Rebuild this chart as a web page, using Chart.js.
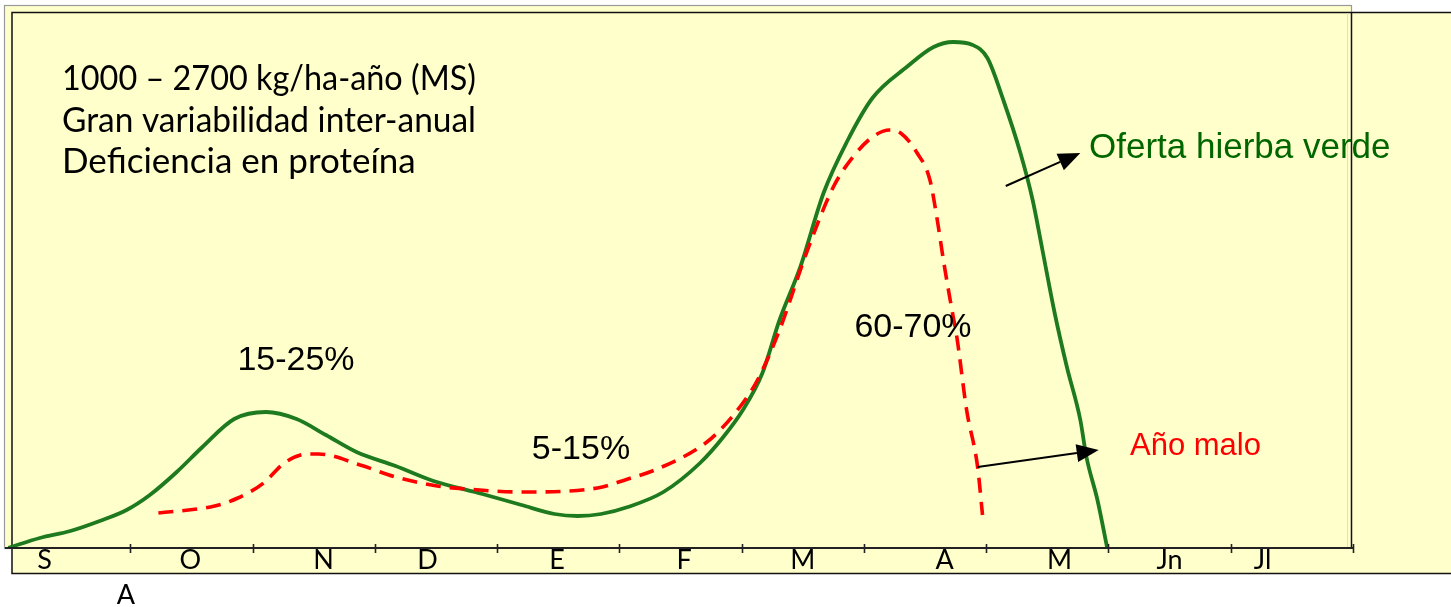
<!DOCTYPE html>
<html>
<head>
<meta charset="utf-8">
<script src="https://cdn.jsdelivr.net/npm/chart.js@4.4.1/dist/chart.umd.min.js"></script>
<style>
  html, body { margin:0; padding:0; background:#fff; }
  #wrap { width:1451px; height:607px; position:relative; }
</style>
</head>
<body>
<div id="wrap"><canvas id="chart" width="1451" height="607"></canvas></div>
<script>
// months from September; x is in months since start of S
const months = ['S','O','N','D','E','F','M','A','M','Jn','Jl'];

// "Oferta hierba verde" (normal year)
const greenX = [0,0.26,0.51,0.75,0.97,1.16,1.38,1.59,1.85,2.11,2.36,2.60,2.85,3.17,3.48,3.88,4.20,4.47,4.66,4.85,5.07,5.36,5.66,5.85,6.01,6.17,6.31,6.48,6.67,6.86,7.07,7.35,7.57,7.73,7.89,8.01,8.14,8.28,8.38,8.46,8.56,8.66,8.77,8.82,8.91,8.99];
const greenY = [0,2,3.4,5.4,7.6,10.6,15.2,20.2,25.8,27.2,25.8,22.6,19.2,16.4,13.4,10.8,8.6,6.8,6.4,6.8,8.2,11.2,17,22.2,27.6,35,45.6,56.2,71,81.2,90,96.2,100.2,101.2,100.6,98,89.6,79,69.6,59.6,47,36.2,25.6,18.2,9.6,0];

// "Año malo"
const redX = [1.23,1.69,1.88,2.09,2.26,2.45,2.54,2.88,3.17,3.51,3.75,4.20,4.82,5.07,5.29,5.66,5.80,6.01,6.13,6.31,6.53,6.75,6.91,7.07,7.21,7.30,7.43,7.54,7.60,7.65,7.72,7.76,7.84,7.93,7.97];
const redY = [7,8.4,10,13,17,18.8,18.8,16.6,14.2,12.4,11.8,11.2,12,13.8,15.6,20.2,23,29,33.6,43.6,59,72.2,78.2,82.2,83.6,83,79.2,73.6,65.6,57.6,47.6,42.2,27.6,16.2,6.6];

const infoLines = ['1000 – 2700 kg/ha-año (MS)', 'Gran variabilidad inter-anual', 'Deficiencia en proteína'];

const toPts = (xs, ys) => xs.map((x,i) => ({x, y: ys[i]}));

// where each month letter sits along the axis (in month units)
const labelPos = [0.30,1.49,2.58,3.43,4.49,5.53,6.50,7.66,8.60,9.50,10.26];

const frame = {
  id: 'frame',
  beforeDraw(chart){
    const c = chart.ctx;
    c.save();
    c.fillStyle = '#fff';
    c.fillRect(0,0,chart.width,chart.height);
    c.fillStyle = '#FFFFCC';
    // chart box (behind)
    c.fillRect(5,6,1347,542);
    c.strokeStyle = '#999';
    c.lineWidth = 1.2;
    c.strokeRect(4.5,5.5,1347,543);
    // back box
    c.fillRect(12,12,chart.width,561);
    c.strokeStyle = '#111';
    c.lineWidth = 1.5;
    c.strokeRect(12,12.5,chart.width,561);
    c.beginPath();
    c.moveTo(1351.5,12); c.lineTo(1351.5,548);
    c.stroke();
    c.strokeStyle = '#ddd';
    c.lineWidth = 1;
    c.beginPath();
    c.moveTo(1347.5,13); c.lineTo(1347.5,547);
    c.stroke();
    c.restore();
  },
  afterDatasetsDraw(chart){
    const c = chart.ctx;
    const xs = chart.scales.x, ys = chart.scales.y;
    const y0 = ys.getPixelForValue(0);
    c.save();
    // axis line and ticks
    c.strokeStyle = '#222';
    c.lineWidth = 2.2;
    c.beginPath();
    c.moveTo(5, y0); c.lineTo(xs.getPixelForValue(11)+1, y0);
    c.stroke();
    c.lineWidth = 1.6;
    c.beginPath();
    for(let i=1;i<=11;i++){
      const px = Math.round(xs.getPixelForValue(i))+0.5;
      c.moveTo(px, y0-4); c.lineTo(px, y0+5);
    }
    c.stroke();
    c.fillStyle = '#000';
    c.font = '27px Lato';
    c.textAlign = 'center';
    c.textBaseline = 'alphabetic';
    months.forEach((m,i) => c.fillText(m, xs.getPixelForValue(labelPos[i]), 569));
    c.fillText('A', xs.getPixelForValue(0.965), 604);

    // info text
    c.textAlign = 'left';
    c.font = '35px Lato';
    infoLines.forEach((t,i) => c.fillText(t, 62, 90 + i*41.5, 414));

    // percentages
    c.font = '34px "Liberation Sans"';
    c.textAlign = 'center';
    c.fillText('15-25%', 296, 370);
    c.fillText('5-15%', 581, 459);
    c.fillText('60-70%', 913, 337);

    c.textAlign = 'left';
    c.fillStyle = '#006600';
    c.font = '35px "Liberation Sans"';
    c.fillText('Oferta hierba verde', 1089, 158, 306);
    c.fillStyle = '#FF0000';
    c.font = '31px "Liberation Sans"';
    c.fillText('Año malo', 1130, 455, 133);

    // arrows
    const arrow = (x1,y1,x2,y2) => {
      const a = Math.atan2(y2-y1, x2-x1), h = 22, w = 9;
      const bx = x2 - h*Math.cos(a), by = y2 - h*Math.sin(a);
      c.strokeStyle = '#000'; c.fillStyle = '#000'; c.lineWidth = 2;
      c.beginPath(); c.moveTo(x1,y1); c.lineTo(bx,by); c.stroke();
      c.beginPath();
      c.moveTo(x2,y2);
      c.lineTo(bx + w*Math.sin(a), by - w*Math.cos(a));
      c.lineTo(bx - w*Math.sin(a), by + w*Math.cos(a));
      c.closePath(); c.fill();
    };
    arrow(xs.getPixelForValue(8.16), ys.getPixelForValue(72.4), xs.getPixelForValue(8.77), ys.getPixelForValue(79));
    arrow(xs.getPixelForValue(7.93), ys.getPixelForValue(16.2), xs.getPixelForValue(8.92), ys.getPixelForValue(19.6));
    c.restore();
  }
};

new Chart(document.getElementById('chart'), {
  type: 'line',
  data: {
    datasets: [
      {
        label: 'Año malo',
        data: toPts(redX, redY),
        borderColor: '#FF0000',
        borderWidth: 3.6,
        borderDash: [15, 9],
        pointRadius: 0,
        cubicInterpolationMode: 'monotone',
        order: 0
      },
      {
        label: 'Oferta hierba verde',
        data: toPts(greenX, greenY),
        borderColor: '#1E7A1E',
        borderWidth: 3.8,
        pointRadius: 0,
        cubicInterpolationMode: 'monotone',
        order: 1
      }
    ]
  },
  options: {
    responsive: false,
    animation: false,
    layout: { padding: { left: 8, right: 98, top: 8, bottom: 59 } },
    plugins: { legend: { display: false }, tooltip: { enabled: false } },
    scales: {
      x: { type: 'linear', min: 0, max: 11, display: false },
      y: { min: 0, max: 108, display: false }
    }
  },
  plugins: [frame]
});
</script>
</body>
</html>
